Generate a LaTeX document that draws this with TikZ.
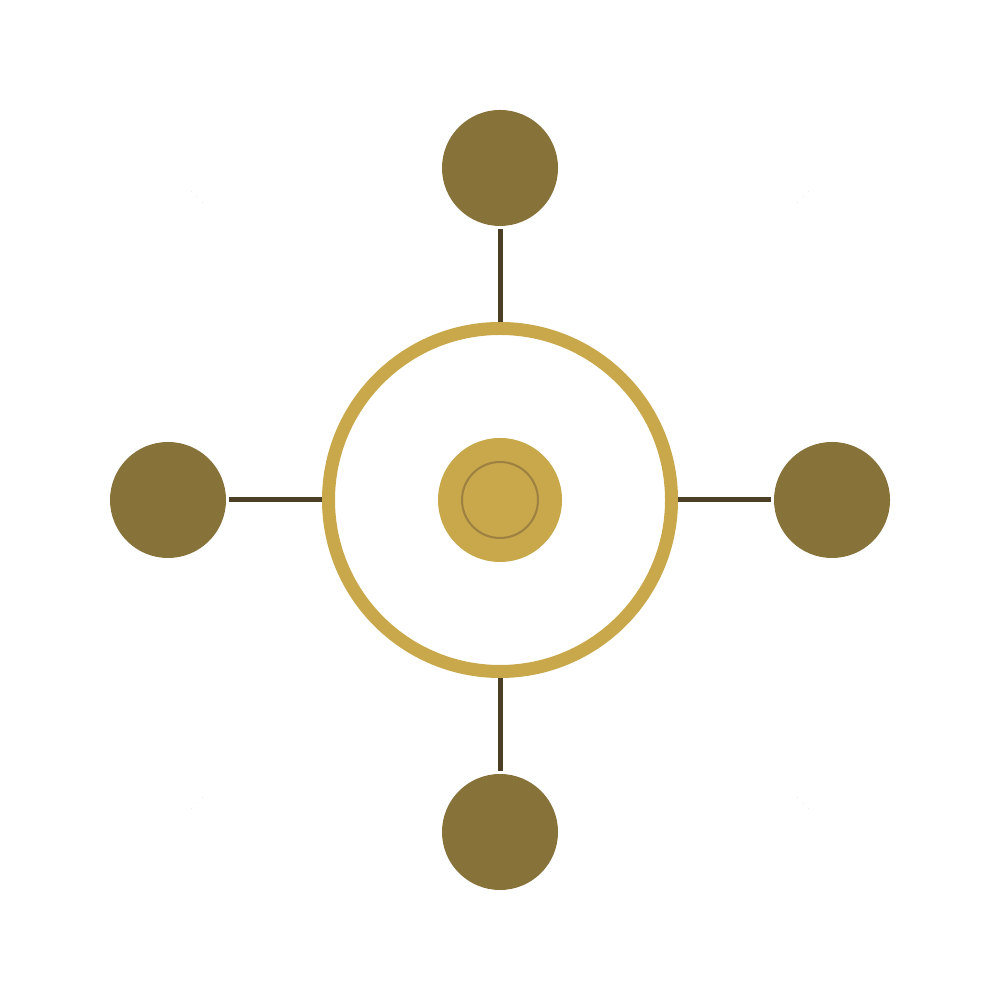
\documentclass[tikz,border=0pt]{standalone}
\usepackage{tikz}
\usetikzlibrary{positioning}

\definecolor{ringgold}{HTML}{C8A84B}
\definecolor{satbrown}{HTML}{87723A}
\definecolor{linkbrown}{HTML}{4B3F26}
\definecolor{hubline}{HTML}{9C8142}

\begin{document}
\begin{tikzpicture} [node distance = 3.32cm, on grid,
    sat/.style = {circle, fill=satbrown, minimum size=1.16cm, inner sep=0pt},
    link/.style = {draw=linkbrown, line width=0.05cm, shorten >=0.02cm}]
\useasboundingbox (0,0) rectangle (10,10);

\node[circle, draw=ringgold, line width=0.13cm, minimum size=3.43cm, inner sep=0pt] (ring) at (5,5) {};
\node[circle, fill=ringgold, minimum size=1.24cm, inner sep=0pt] (hub) at (5,5) {};
\node[circle, draw=hubline, line width=0.02cm, minimum size=0.76cm, inner sep=0pt] (hub_inner) at (5,5) {};

\node[sat] (sat_top) [above = of ring] {};
\node[sat] (sat_bottom) [below = of ring] {};
\node[sat] (sat_left) [left = of ring] {};
\node[sat] (sat_right) [right = of ring] {};

\path[link] (ring) -- (sat_top);
\path[link] (ring) -- (sat_bottom);
\path[link] (ring) -- (sat_left);
\path[link] (ring) -- (sat_right);

% faint diagonal marks
\foreach \a in {45, 135, 225, 315}
  \draw[gray!15, dotted, line width=0.01cm] (5,5) ++(\a:4.2) -- ++(\a:0.2);

\end{tikzpicture}
\end{document}
